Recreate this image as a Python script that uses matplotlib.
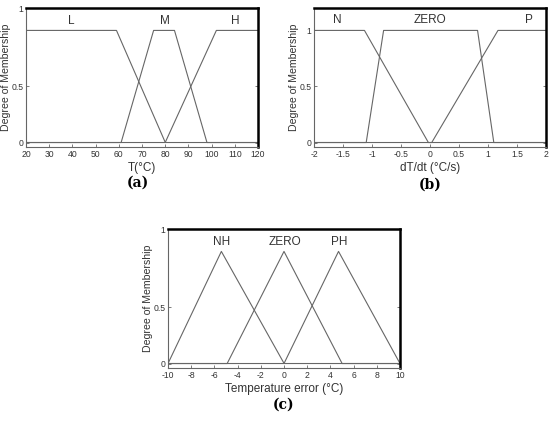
import numpy as np
import matplotlib
matplotlib.use("Agg")
import matplotlib.pyplot as plt

plt.rcParams.update({
    "font.family": ["Liberation Sans", "DejaVu Sans"],
    "font.size": 6.5,
})

LINE = "#666666"
TXT = "#333333"

# (a) temperature, trapezoids [a, b, c, d]
t_names = ["L", "M", "H"]
t_params = [[20, 20, 59, 80], [61, 75, 84, 98], [80, 102, 120, 120]]
t_label_x = [39.5, 80, 110]
t_ticks = [20, 30, 40, 50, 60, 70, 80, 90, 100, 110, 120]

# (b) dT/dt, trapezoids
d_names = ["N", "ZERO", "P"]
d_params = [[-2, -2, -1.13, -0.03], [-1.1, -0.8, 0.82, 1.1], [0.03, 1.17, 2, 2]]
d_label_x = [-1.6, 0.0, 1.7]
d_ticks = [-2, -1.5, -1, -0.5, 0, 0.5, 1, 1.5, 2]
d_ticklabels = ["-2", "-1.5", "-1", "-0.5", "0", "0.5", "1", "1.5", "2"]

# (c) temperature error, triangles [a, b, c]
e_names = ["NH", "ZERO", "PH"]
e_params = [[-10, -5.4, 0], [-4.9, 0, 5], [0, 4.7, 10]]
e_label_x = [-5.4, 0.1, 4.8]
e_ticks = [-10, -8, -6, -4, -2, 0, 2, 4, 6, 8, 10]


def trap(x, p):
    a, b, c, d = p
    y = np.zeros_like(x)
    if b > a:
        m = (x >= a) & (x < b)
        y[m] = (x[m] - a) / (b - a)
    y[(x >= b) & (x <= c)] = 1.0
    if d > c:
        m = (x > c) & (x <= d)
        y[m] = (d - x[m]) / (d - c)
    return y


def tri(x, p):
    a, b, c = p
    return trap(x, [a, b, b, c])


def style(ax, xlim, xticks, xticklabels, ylabel_top, xlabel):
    ax.set_xlim(*xlim)
    ax.set_ylim(-0.04, 1.2)
    ax.set_xticks(xticks)
    ax.set_xticklabels(xticklabels if xticklabels else [str(v) for v in xticks])
    if ylabel_top:
        ax.set_yticks([0, 0.5, 1.2])
    else:
        ax.set_yticks([0, 0.5, 1])
    ax.set_yticklabels(["0", "0.5", "1"])
    ax.tick_params(direction="in", length=2.5, width=0.6, colors=LINE,
                   labelcolor=TXT, labelsize=6.2, right=True, pad=2)
    for s in ["left", "bottom"]:
        ax.spines[s].set_color(LINE)
        ax.spines[s].set_linewidth(0.8)
    for s in ["top", "right"]:
        ax.spines[s].set_color("black")
        ax.spines[s].set_linewidth(1.8)
    ax.set_xlabel(xlabel, fontsize=8.5, color=TXT, labelpad=2)
    ax.set_ylabel("Degree of Membership", fontsize=7.6, color=TXT, labelpad=0)


fig = plt.figure(figsize=(5.5, 4.21), dpi=100)
W, H = 550, 421


def add_axes(x0, y0, x1, y1):
    return fig.add_axes([x0 / W, 1 - y1 / H, (x1 - x0) / W, (y1 - y0) / H])


# panel (a)
ax = add_axes(26, 8, 258, 147)
x = np.linspace(20, 120, 2001)
for name, p, lx in zip(t_names, t_params, t_label_x):
    ax.plot(x, trap(x, p), color=LINE, lw=0.8)
    ax.text(lx, 1.08, name, ha="center", va="center", fontsize=8.5, color=TXT)
style(ax, (20, 120), t_ticks, None, True, "T(°C)")
fig.text(138 / W, 1 - 183 / H, "(a)", ha="center", va="center",
         fontsize=10, fontweight="bold", family="DejaVu Serif")

# panel (b)
ax = add_axes(314, 8, 546, 147)
x = np.linspace(-2, 2, 2001)
for name, p, lx in zip(d_names, d_params, d_label_x):
    ax.plot(x, trap(x, p), color=LINE, lw=0.8)
    ax.text(lx, 1.09, name, ha="center", va="center", fontsize=8.5, color=TXT)
style(ax, (-2, 2), d_ticks, d_ticklabels, False, "dT/dt (°C/s)")
fig.text(430 / W, 1 - 185 / H, "(b)", ha="center", va="center",
         fontsize=10, fontweight="bold", family="DejaVu Serif")

# panel (c)
ax = add_axes(168, 229, 400, 368)
x = np.linspace(-10, 10, 2001)
for name, p, lx in zip(e_names, e_params, e_label_x):
    ax.plot(x, tri(x, p), color=LINE, lw=0.8)
    ax.text(lx, 1.08, name, ha="center", va="center", fontsize=8.5, color=TXT)
style(ax, (-10, 10), e_ticks, None, True, "Temperature error (°C)")
fig.text(284 / W, 1 - 405 / H, "(c)", ha="center", va="center",
         fontsize=10, fontweight="bold", family="DejaVu Serif")

fig.savefig("out.png", dpi=100)
